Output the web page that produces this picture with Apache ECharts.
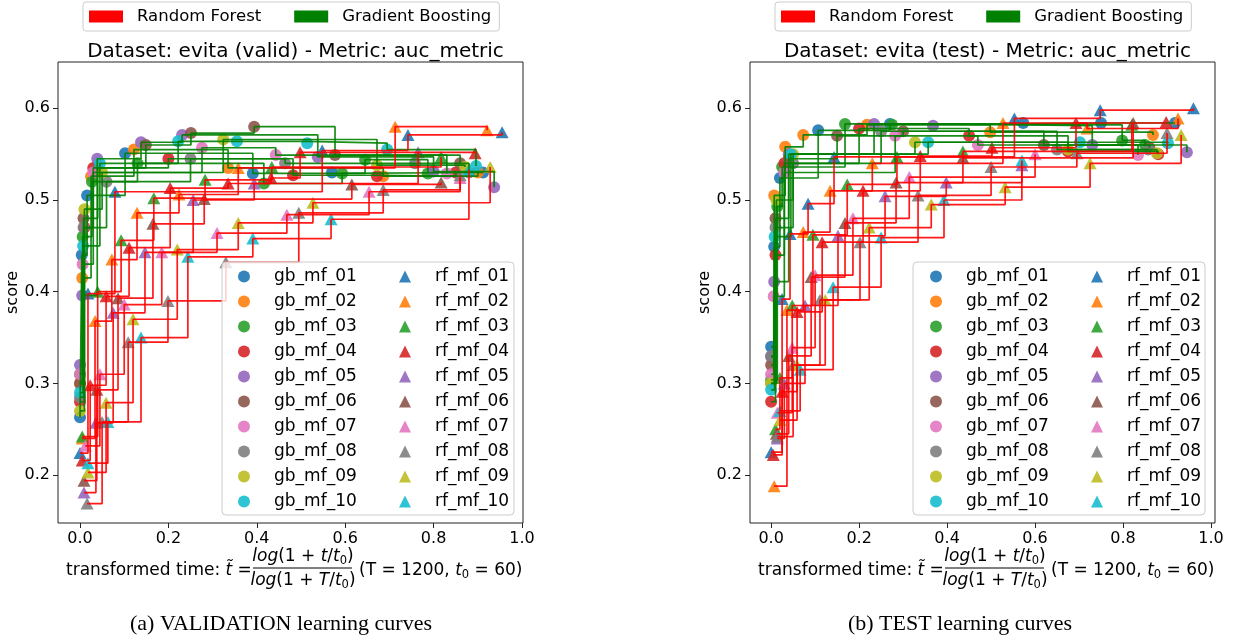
<!DOCTYPE html>
<html>
<head>
<meta charset="utf-8">
<script src="https://cdn.jsdelivr.net/npm/echarts@6/dist/echarts.min.js"></script>
<style>html,body{margin:0;padding:0;background:#fff}#c{width:1236px;height:642px}</style>
</head>
<body>
<div id="c"></div>
<script>
// ---------- data (x = transformed time, y = score) ----------
const tickX = [0.0, 0.2, 0.4, 0.6, 0.8, 1.0];
const tickY = [0.2, 0.3, 0.4, 0.5, 0.6];
const mfIds = ['01','02','03','04','05','06','07','08','09','10'];
const tab10 = ['#1f77b4','#ff7f0e','#2ca02c','#d62728','#9467bd','#8c564b','#e377c2','#7f7f7f','#bcbd22','#17becf'];

const validGB = [
  [[0.0,0.263],[0.004,0.44],[0.016,0.505],[0.102,0.551],[0.391,0.529],[0.57,0.53],[0.912,0.53]],
  [[0.0,0.30],[0.005,0.415],[0.025,0.526],[0.122,0.555],[0.335,0.535],[0.686,0.526],[0.90,0.53]],
  [[0.0,0.31],[0.006,0.46],[0.027,0.52],[0.13,0.54],[0.416,0.518],[0.593,0.529],[0.645,0.544],[0.787,0.529]],
  [[0.0,0.28],[0.01,0.47],[0.03,0.535],[0.2,0.545],[0.482,0.527],[0.672,0.526],[0.85,0.53]],
  [[0.0,0.32],[0.005,0.396],[0.039,0.545],[0.138,0.563],[0.231,0.571],[0.538,0.547],[0.80,0.531],[0.937,0.514]],
  [[0.0,0.30],[0.008,0.48],[0.04,0.535],[0.149,0.56],[0.251,0.573],[0.394,0.58],[0.577,0.549],[0.86,0.54]],
  [[0.0,0.31],[0.006,0.43],[0.03,0.53],[0.276,0.557],[0.443,0.549],[0.83,0.529]],
  [[0.0,0.285],[0.008,0.47],[0.06,0.52],[0.25,0.545],[0.464,0.54],[0.758,0.54],[0.88,0.53]],
  [[0.0,0.27],[0.01,0.49],[0.05,0.53],[0.324,0.566],[0.672,0.538],[0.871,0.536]],
  [[0.0,0.29],[0.007,0.45],[0.045,0.54],[0.222,0.564],[0.355,0.564],[0.514,0.562],[0.695,0.555],[0.896,0.537]]
];
const validRF = [
  [[0.0,0.224],[0.018,0.398],[0.079,0.509],[0.548,0.554],[0.742,0.571],[0.955,0.574]],
  [[0.005,0.24],[0.034,0.368],[0.072,0.435],[0.129,0.486],[0.224,0.506],[0.358,0.535],[0.713,0.58],[0.921,0.576]],
  [[0.005,0.242],[0.04,0.40],[0.093,0.456],[0.167,0.502],[0.283,0.522],[0.434,0.536],[0.817,0.547]],
  [[0.005,0.216],[0.023,0.298],[0.059,0.395],[0.111,0.448],[0.204,0.513],[0.335,0.518],[0.432,0.524],[0.498,0.552],[0.894,0.551]],
  [[0.009,0.181],[0.036,0.257],[0.075,0.377],[0.147,0.443],[0.256,0.50],[0.394,0.518],[0.765,0.552]],
  [[0.009,0.194],[0.038,0.293],[0.086,0.393],[0.165,0.474],[0.281,0.501],[0.615,0.517],[0.817,0.519]],
  [[0.012,0.232],[0.045,0.31],[0.10,0.386],[0.185,0.443],[0.31,0.464],[0.468,0.484],[0.654,0.509],[0.86,0.524]],
  [[0.016,0.169],[0.05,0.258],[0.109,0.345],[0.199,0.39],[0.33,0.432],[0.495,0.486],[0.686,0.511],[0.86,0.527]],
  [[0.018,0.203],[0.059,0.279],[0.12,0.37],[0.22,0.446],[0.358,0.475],[0.527,0.497],[0.928,0.536]],
  [[0.018,0.213],[0.063,0.258],[0.138,0.35],[0.244,0.438],[0.391,0.458],[0.568,0.479],[0.88,0.533]]
];
const testGB = [
  [[0.0,0.34],[0.007,0.449],[0.02,0.524],[0.107,0.576],[0.27,0.583],[0.573,0.584],[0.75,0.584],[0.918,0.584]],
  [[0.0,0.30],[0.007,0.505],[0.032,0.558],[0.073,0.571],[0.218,0.582],[0.498,0.574],[0.868,0.571]],
  [[0.0,0.304],[0.014,0.493],[0.025,0.536],[0.168,0.583],[0.275,0.582],[0.798,0.565],[0.85,0.56]],
  [[0.0,0.28],[0.01,0.44],[0.03,0.54],[0.2,0.578],[0.45,0.57],[0.675,0.553],[0.88,0.55]],
  [[0.0,0.329],[0.007,0.411],[0.04,0.55],[0.234,0.583],[0.368,0.581],[0.73,0.56],[0.945,0.552]],
  [[0.0,0.32],[0.01,0.48],[0.04,0.545],[0.15,0.57],[0.3,0.575],[0.62,0.56],[0.86,0.557]],
  [[0.0,0.31],[0.006,0.395],[0.03,0.53],[0.282,0.57],[0.47,0.56],[0.834,0.549]],
  [[0.0,0.33],[0.01,0.47],[0.05,0.54],[0.25,0.575],[0.65,0.555],[0.857,0.555]],
  [[0.0,0.30],[0.012,0.50],[0.05,0.55],[0.327,0.563],[0.675,0.555],[0.877,0.551]],
  [[0.0,0.293],[0.008,0.46],[0.045,0.55],[0.357,0.563],[0.702,0.563],[0.902,0.562]]
];
const testRF = [
  [[0.0,0.225],[0.025,0.392],[0.043,0.463],[0.084,0.496],[0.143,0.547],[0.553,0.589],[0.748,0.598],[0.96,0.60]],
  [[0.007,0.188],[0.036,0.38],[0.073,0.465],[0.134,0.51],[0.23,0.54],[0.527,0.584],[0.718,0.578],[0.925,0.589]],
  [[0.01,0.25],[0.02,0.306],[0.048,0.385],[0.095,0.462],[0.173,0.517],[0.286,0.547],[0.436,0.553],[0.82,0.582]],
  [[0.005,0.222],[0.025,0.291],[0.059,0.378],[0.116,0.454],[0.209,0.51],[0.339,0.548],[0.502,0.557],[0.693,0.584],[0.898,0.585]],
  [[0.014,0.24],[0.03,0.30],[0.077,0.385],[0.152,0.461],[0.259,0.504],[0.398,0.519],[0.57,0.538]],
  [[0.012,0.245],[0.04,0.33],[0.091,0.416],[0.168,0.475],[0.284,0.519],[0.436,0.546],[0.823,0.584]],
  [[0.014,0.268],[0.048,0.339],[0.10,0.418],[0.186,0.48],[0.314,0.525],[0.60,0.55]],
  [[0.014,0.242],[0.05,0.32],[0.111,0.391],[0.202,0.454],[0.334,0.505],[0.5,0.536],[0.695,0.551],[0.90,0.573]],
  [[0.02,0.26],[0.059,0.32],[0.123,0.391],[0.223,0.47],[0.364,0.495],[0.532,0.514],[0.725,0.54],[0.932,0.571]],
  [[0.02,0.27],[0.066,0.315],[0.141,0.405],[0.25,0.459],[0.393,0.5],[0.57,0.543]]
];
const titles = ['Dataset: evita (valid) - Metric: auc_metric', 'Dataset: evita (test) - Metric: auc_metric'];
const captions = ['(a) VALIDATION learning curves', '(b) TEST learning curves'];

// ---------- build ----------
const FONT = 'DejaVu Sans';
const gbNames = mfIds.map(i => 'gb_mf_' + i);
const rfNames = mfIds.map(i => 'rf_mf_' + i);
const panels = [
  {gb: validGB, rf: validRF, left: 58, xmin: -0.0498, xmax: 1.0023},
  {gb: testGB, rf: testRF, left: 750, xmin: -0.048, xmax: 1.009}
];
const GW = 465, GT = 62, GH = 461;

const grid = [], xAxis = [], yAxis = [], series = [], legend = [], title = [], graphic = [];

function axisCommon() {
  return {
    axisLine: {show: false, onZero: false},
    axisTick: {show: true, length: 5, lineStyle: {color: '#222', width: 1}},
    axisLabel: {color: '#000', fontSize: 16, fontFamily: FONT, margin: 8, formatter: v => v.toFixed(1)},
    splitLine: {show: false}
  };
}

panels.forEach((p, k) => {
  const off = p.left - 58;
  grid.push({left: p.left, top: GT, width: GW, height: GH, show: true, borderColor: '#222', borderWidth: 1, backgroundColor: 'transparent'});
  const xa = axisCommon();
  xa.axisTick.customValues = tickX; xa.axisLabel.customValues = tickX;
  xAxis.push(Object.assign(xa, {type: 'value', gridIndex: k, min: p.xmin, max: p.xmax}));
  const ya = axisCommon();
  ya.axisTick.customValues = tickY; ya.axisLabel.customValues = tickY;
  yAxis.push(Object.assign(ya, {type: 'value', gridIndex: k, min: 0.1478, max: 0.6505,
    name: 'score', nameLocation: 'middle', nameGap: 34, nameRotate: 90,
    nameTextStyle: {color: '#000', fontSize: 16, fontFamily: FONT}}));

  // scatter markers (below lines, like matplotlib zorder)
  p.gb.forEach((c, i) => series.push({type: 'scatter', name: gbNames[i], xAxisIndex: k, yAxisIndex: k,
    data: c, symbol: 'circle', symbolSize: 12, z: 2,
    itemStyle: {color: tab10[i], opacity: 0.9}}));
  p.rf.forEach((c, i) => series.push({type: 'scatter', name: rfNames[i], xAxisIndex: k, yAxisIndex: k,
    data: c, symbol: 'triangle', symbolSize: [13, 12], z: 2,
    itemStyle: {color: tab10[i], opacity: 0.9}}));
  // step lines
  p.gb.forEach((c) => series.push({type: 'line', name: 'Gradient Boosting', xAxisIndex: k, yAxisIndex: k,
    data: c, step: 'end', symbol: 'none', z: 3, silent: true,
    itemStyle: {color: '#008000'}, lineStyle: {color: '#008000', width: 1.7, opacity: 0.9}}));
  p.rf.forEach((c) => series.push({type: 'line', name: 'Random Forest', xAxisIndex: k, yAxisIndex: k,
    data: c, step: 'end', symbol: 'none', z: 3, silent: true,
    itemStyle: {color: '#ff0000'}, lineStyle: {color: '#ff0000', width: 1.7, opacity: 0.9}}));

  // top legend
  legend.push({left: 83 + off, top: 2, orient: 'horizontal', itemWidth: 34, itemHeight: 12, itemGap: 33,
    icon: 'rect', data: ['Random Forest', 'Gradient Boosting'], selectedMode: false,
    borderColor: '#cccccc', borderWidth: 1, borderRadius: 3, padding: [6, 8, 6, 6],
    textStyle: {fontSize: 16.5, fontFamily: FONT, color: '#000', padding: [0, 0, 0, 9]}});
  // inner legends (two columns)
  const lx = k === 0 ? [238, 399] : [930, 1091];
  legend.push({orient: 'vertical', left: lx[0], top: 268, itemWidth: 12, itemHeight: 12, itemGap: 8,
    icon: 'circle', data: gbNames, selectedMode: false, padding: 0, z: 12,
    textStyle: {fontSize: 17, fontFamily: FONT, color: '#000', lineHeight: 16, padding: [0, 0, 0, 19]}});
  legend.push({orient: 'vertical', left: lx[1], top: 268, itemWidth: 12, itemHeight: 12, itemGap: 8,
    icon: 'triangle', data: rfNames, selectedMode: false, padding: 0, z: 12,
    textStyle: {fontSize: 17, fontFamily: FONT, color: '#000', lineHeight: 16, padding: [0, 0, 0, 19]}});
  const bx = k === 0 ? 222 : 913;
  graphic.push({type: 'rect', z: 10, shape: {x: bx, y: 262, width: 292, height: 253, r: 4},
    style: {fill: 'rgba(255,255,255,0.8)', stroke: '#cccccc', lineWidth: 1}});

  // title
  title.push({text: titles[k], left: p.left + GW / 2, top: 37, textAlign: 'center',
    textStyle: {fontSize: 20, fontWeight: 'normal', fontFamily: FONT, color: '#000'}});

  // x axis label with fraction
  const rich = {i: {fontStyle: 'italic', fontSize: 17, fontFamily: FONT},
                s: {fontSize: 11.5, fontFamily: FONT, padding: [8, 0, 0, 0]}};
  graphic.push({type: 'text', x: 66 + off, y: 571, style: {text: 'transformed time: {i|t\u0303} = ', rich,
    font: '17px "DejaVu Sans"', fill: '#000', textVerticalAlign: 'middle', textAlign: 'left'}});
  graphic.push({type: 'text', x: 303 + off, y: 557, style: {text: '{i|log}(1 + {i|t}/{i|t}{s|0})', rich,
    font: '17px "DejaVu Sans"', fill: '#000', textVerticalAlign: 'middle', textAlign: 'center'}});
  graphic.push({type: 'line', shape: {x1: 253 + off, y1: 568, x2: 352 + off, y2: 568}, style: {stroke: '#000', lineWidth: 1}});
  graphic.push({type: 'text', x: 303 + off, y: 581, style: {text: '{i|log}(1 + {i|T}/{i|t}{s|0})', rich,
    font: '17px "DejaVu Sans"', fill: '#000', textVerticalAlign: 'middle', textAlign: 'left' === 'x' ? 'left' : 'center'}});
  graphic.push({type: 'text', x: 359 + off, y: 571, style: {text: '(T = 1200, {i|t}{s|0} = 60)', rich,
    font: '17px "DejaVu Sans"', fill: '#000', textVerticalAlign: 'middle', textAlign: 'left'}});
  // caption
  graphic.push({type: 'text', x: k === 0 ? 281 : 960, y: 624, style: {text: captions[k],
    font: '22px "Liberation Serif"', fill: '#000', textVerticalAlign: 'middle', textAlign: 'center'}});
});

const chart = echarts.init(document.getElementById('c'), null, {renderer: 'canvas'});
chart.setOption({animation: false, backgroundColor: '#fff', grid, xAxis, yAxis, series, legend, title, graphic});
</script>
</body>
</html>
